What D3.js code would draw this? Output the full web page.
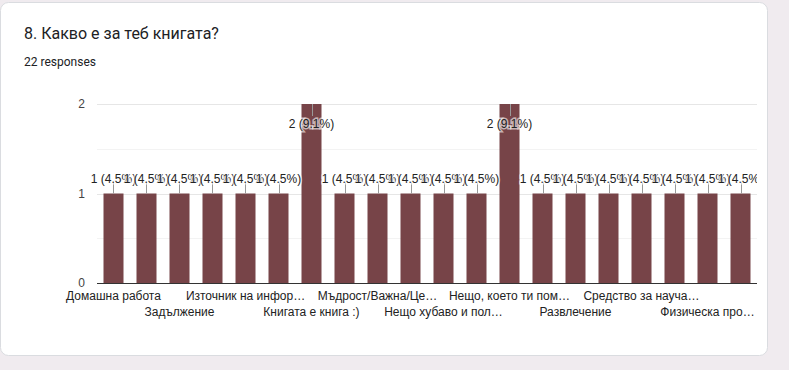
<!DOCTYPE html>
<html><head><meta charset="utf-8">
<script src="https://cdn.jsdelivr.net/npm/d3@7"></script>
<style>
html,body{margin:0;padding:0;background:#f0ebef;}
svg{display:block;}
</style></head>
<body>
<script>
const title = "8. Какво е за теб книгата?";
const subtitle = "22 responses";
const categories = [
  "Домашна работа", "Друг свят", "Задължение", "Знание", "Източник на инфор…",
  "Информация", "Книгата е книга :)", "Любов", "Мъдрост/Важна/Це…", "Начин за забавление",
  "Нещо хубаво и пол…", "Нещо интересно", "Нещо, което ти пом…", "Приятел", "Развлечение",
  "Релакс", "Средство за науча…", "Удоволствие", "Физическа про…", "Хоби"
];
const values = [1,1,1,1,1,1,2,1,1,1,1,1,2,1,1,1,1,1,1,1];
const total = 22;
const yTicks = [0,1,2];
const yGrid = [0.5,1,1.5,2];

const W = 789, H = 370;
const svg = d3.select("body").append("svg").attr("width", W).attr("height", H);

// card
svg.append("rect").attr("x",0.5).attr("y",2.5).attr("width",767).attr("height",353)
  .attr("rx",8).attr("fill","#fff").attr("stroke","#dadce0");

svg.append("text").attr("x",24).attr("y",39).text(title)
  .attr("font-family","Roboto, 'Open Sans', sans-serif").attr("font-size",16).attr("fill","#202124");
svg.append("text").attr("x",24).attr("y",66).text(subtitle)
  .attr("font-family","Roboto, 'Open Sans', sans-serif").attr("font-size",12).attr("fill","#202124");

const x = d3.scaleBand().domain(categories).range([97,757]).paddingInner(0.394).paddingOuter(0.197);
const y = d3.scaleLinear().domain([0,2]).range([283,104]);

const font = "'Liberation Sans', Arial, sans-serif";

// gridlines
svg.append("g").selectAll("line").data(yGrid).join("line")
  .attr("x1",97).attr("x2",757)
  .attr("y1",d=>Math.round(y(d))+0.5).attr("y2",d=>Math.round(y(d))+0.5)
  .attr("stroke",d=> d%1===0 ? "#e6e6e6" : "#f3f3f3");

// y axis labels
const yAxis = d3.axisLeft(y).tickValues(yTicks).tickSize(0).tickPadding(0).tickFormat(d3.format("d"));
const gy = svg.append("g").attr("transform","translate(85,0)").call(yAxis);
gy.select(".domain").remove();
gy.selectAll("text").attr("font-family",font).attr("font-size",12).attr("fill","#444");

// bars
svg.append("g").selectAll("rect").data(values).join("rect")
  .attr("x",(d,i)=>x(categories[i])).attr("width",x.bandwidth())
  .attr("y",d=>y(d)).attr("height",d=>y(0)-y(d))
  .attr("fill","#774448");

// baseline
svg.append("line").attr("x1",97).attr("x2",757).attr("y1",283.5).attr("y2",283.5)
  .attr("stroke","#333");

// annotations
svg.append("defs").append("clipPath").attr("id","clip")
  .append("rect").attr("x",0).attr("y",0).attr("width",757).attr("height",H);
const ann = svg.append("g").attr("clip-path","url(#clip)");
const fmt = d => `${d} (${(d/total*100).toFixed(1)}%)`;
values.forEach((d,i)=>{
  const cx = x(categories[i]) + x.bandwidth()/2;
  const top = y(d);
  const tall = d === d3.max(values);
  const y1 = tall ? top : top - 12;
  const y2 = tall ? top + 12 : top;
  ann.append("line").attr("x1",Math.round(cx)+0.5).attr("x2",Math.round(cx)+0.5)
    .attr("y1",y1).attr("y2",y2).attr("stroke","#999");
  ann.append("text").attr("x",cx).attr("y", tall ? top + 23.5 : top - 10.5)
    .attr("text-anchor","middle").attr("font-family",font).attr("font-size",12)
    .attr("fill","#222").attr("stroke","#fff").attr("stroke-width",3).attr("stroke-opacity",0.6)
    .attr("paint-order","stroke").text(fmt(d));
});

// x labels (every other category, alternating rows)
const xl = svg.append("g");
categories.forEach((c,i)=>{
  if (i % 2 !== 0) return;
  const row = (i/2) % 2;
  xl.append("text").attr("x", x(c)+x.bandwidth()/2).attr("y", row===0 ? 300 : 316)
    .attr("text-anchor","middle").attr("font-family",font).attr("font-size",12)
    .attr("fill","#222").text(c);
});
</script>
</body></html>
